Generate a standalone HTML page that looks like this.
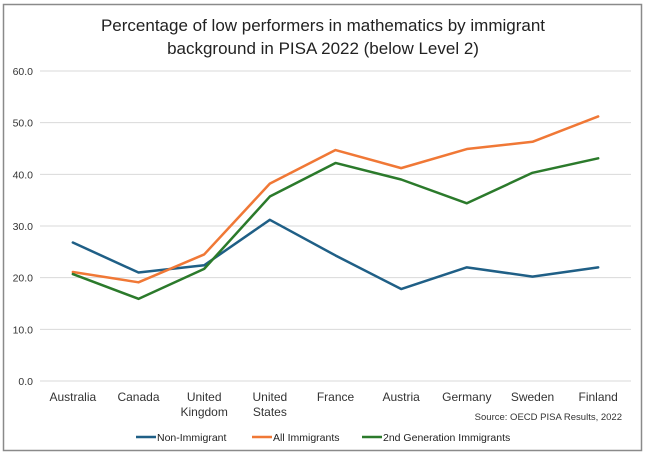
<!DOCTYPE html>
<html><head><meta charset="utf-8"><style>
body{margin:0;background:#fff;}
svg{display:block;font-family:"Liberation Sans",sans-serif;}
</style></head><body>
<svg id="chart" width="650" height="458">
<rect x="3.5" y="4.5" width="638" height="446" fill="#fff" stroke="#8a8a8a" stroke-width="1.5"/>
<text x="323" y="31" text-anchor="middle" font-size="17" fill="#222">Percentage of low performers in mathematics by immigrant</text>
<text x="323" y="54" text-anchor="middle" font-size="17" fill="#222">background in PISA 2022 (below Level 2)</text>
<g id="grid"></g><g id="xlabels"></g><g id="series"></g>
<text x="622" y="420" text-anchor="end" font-size="9.5" fill="#333">Source: OECD PISA Results, 2022</text>
<g>
<line x1="136" y1="437" x2="156" y2="437" stroke="#1f5f86" stroke-width="2.5"/>
<text x="157" y="441" font-size="10.5" fill="#222">Non-Immigrant</text>
<line x1="252" y1="437" x2="272" y2="437" stroke="#f07836" stroke-width="2.5"/>
<text x="273" y="441" font-size="10.5" fill="#222">All Immigrants</text>
<line x1="362" y1="437" x2="382" y2="437" stroke="#2b7a2b" stroke-width="2.5"/>
<text x="383" y="441" font-size="10.5" fill="#222">2nd Generation Immigrants</text>
</g>
</svg>
<script>
const categories=[["Australia"],["Canada"],["United","Kingdom"],["United","States"],["France"],["Austria"],["Germany"],["Sweden"],["Finland"]];
const nonImmigrant=[26.8,21.0,22.4,31.2,24.3,17.8,22.0,20.2,22.0];
const allImmigrants=[21.1,19.1,24.5,38.2,44.7,41.2,44.9,46.3,51.2];
const secondGen=[20.7,15.9,21.7,35.7,42.2,39.0,34.4,40.3,43.1];
const yTicks=[0,10,20,30,40,50,60];
const NS="http://www.w3.org/2000/svg";
const x0=40,x1=631,y0=381,y1=71,yMax=60;
const step=(x1-x0)/categories.length;
const xs=i=>x0+step*(i+0.5);
const ys=v=>y0-(v/yMax)*(y0-y1);
function mk(t,a){const e=document.createElementNS(NS,t);for(const k in a)e.setAttribute(k,a[k]);return e;}
const grid=document.getElementById('grid');
yTicks.forEach(v=>{
 const l=mk('line',{x1:x0,x2:x1,y1:ys(v),y2:ys(v),stroke:'#d9d9d9','stroke-width':1});
 
 
 grid.appendChild(l);
 const t=mk('text',{x:33,y:ys(v)+4,'text-anchor':'end','font-size':10.5,fill:'#333'});
 t.textContent=v.toFixed(1);
 
 
 grid.appendChild(t);
});
const xl=document.getElementById('xlabels');
categories.forEach((c,i)=>{
 c.forEach((s,j)=>{
  const t=mk('text',{x:xs(i),y:401+j*15,'text-anchor':'middle','font-size':12,fill:'#333'});
  t.textContent=s;
  
  
  xl.appendChild(t);
 });
});
const sg=document.getElementById('series');
[[nonImmigrant,'#1f5f86','line-non-immigrant'],[allImmigrants,'#f07836','line-all-immigrants'],[secondGen,'#2b7a2b','line-2nd-generation']].forEach(([d,c,n])=>{
 const p=mk('polyline',{points:d.map((v,i)=>xs(i)+','+ys(v)).join(' '),fill:'none',stroke:c,'stroke-width':2.5,'stroke-linejoin':'round','stroke-linecap':'round'});
 
 
 sg.appendChild(p);
});
</script>
</body></html>
